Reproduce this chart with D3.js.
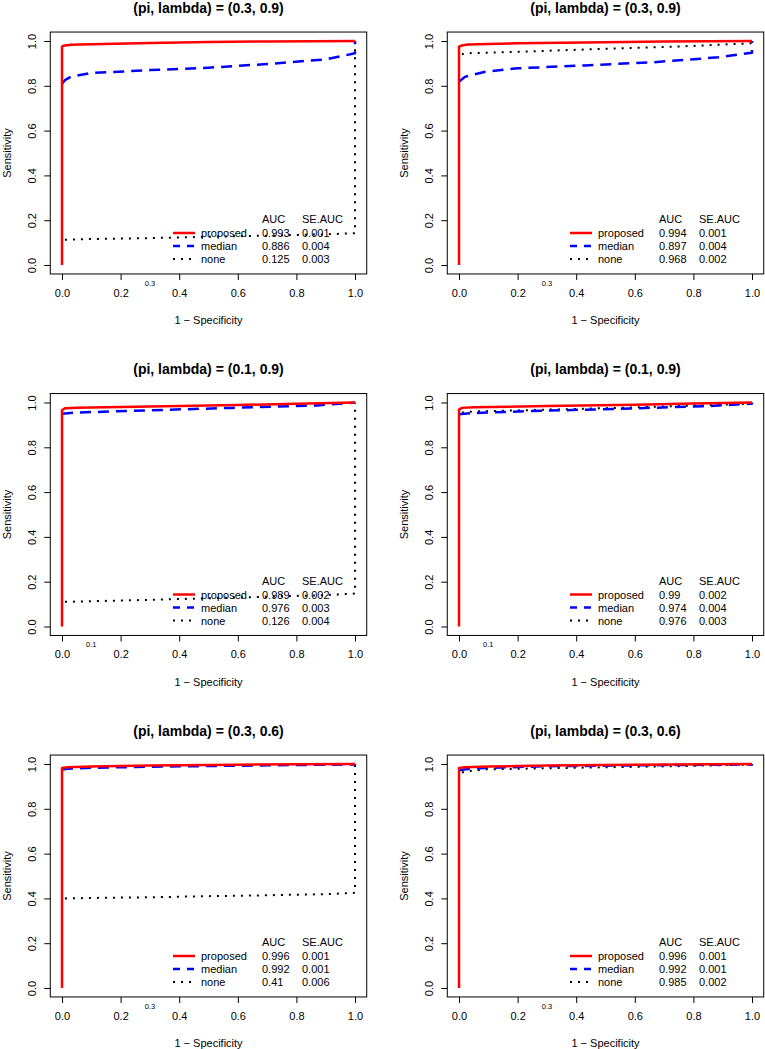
<!DOCTYPE html>
<html><head><meta charset="utf-8">
<script src="https://cdn.jsdelivr.net/npm/d3@7"></script>
<style>body{margin:0;background:#fff;} svg{display:block;font-family:"Liberation Sans",Arial,Helvetica,sans-serif;}</style>
</head><body><svg id="c" width="765" height="1049"></svg>
<script>
const panelTitles = ["(pi, lambda) = (0.3, 0.9)","(pi, lambda) = (0.3, 0.9)","(pi, lambda) = (0.1, 0.9)","(pi, lambda) = (0.1, 0.9)","(pi, lambda) = (0.3, 0.6)","(pi, lambda) = (0.3, 0.6)"];
const piValues = [0.3,0.3,0.1,0.1,0.3,0.3];
const seriesNames = ["proposed","median","none"];
const aucValues = [[0.993,0.886,0.125],[0.994,0.897,0.968],[0.989,0.976,0.126],[0.99,0.974,0.976],[0.996,0.992,0.41],[0.996,0.992,0.985]];
const seAucValues = [["0.001","0.004","0.003"],["0.001","0.004","0.002"],["0.002","0.003","0.004"],["0.002","0.004","0.003"],["0.001","0.001","0.006"],["0.001","0.001","0.002"]];
const xTicks = [0,0.2,0.4,0.6,0.8,1.0];
const yTicks = [0,0.2,0.4,0.6,0.8,1.0];
const xLabel = "1 \u2212 Specificity";
const yLabel = "Sensitivity";

const proposedCurves = [
 [[0,0],[0,0.975],[0.005,0.979],[0.03,0.983],[0.1,0.986],[0.3,0.991],[0.5,0.995],[0.7,0.998],[1,1]],
 [[0,0],[0,0.975],[0.01,0.98],[0.03,0.984],[0.1,0.987],[0.2,0.99],[0.5,0.994],[0.7,0.998],[1,1]],
 [[0,0],[0,0.965],[0.01,0.974],[0.05,0.977],[0.3,0.982],[0.6,0.989],[0.8,0.994],[1,1]],
 [[0,0],[0,0.968],[0.01,0.976],[0.05,0.979],[0.3,0.984],[0.6,0.99],[0.8,0.995],[1,1]],
 [[0,0],[0,0.982],[0.02,0.986],[0.1,0.989],[0.3,0.993],[0.6,0.997],[1,1]],
 [[0,0],[0,0.982],[0.02,0.986],[0.1,0.989],[0.3,0.993],[0.6,0.997],[1,1]]
];
const medianCurves = [
 [[0,0.81],[0.01,0.825],[0.03,0.84],[0.1,0.857],[0.3,0.87],[0.5,0.881],[0.7,0.897],[0.9,0.918],[1,0.945],[1,1]],
 [[0,0.818],[0.02,0.84],[0.09,0.863],[0.2,0.878],[0.43,0.891],[0.66,0.905],[0.885,0.927],[1,0.948],[1,1]],
 [[0,0.95],[0.05,0.955],[0.24,0.963],[0.58,0.976],[0.87,0.987],[1,1]],
 [[0,0.948],[0.05,0.953],[0.25,0.962],[0.55,0.972],[0.85,0.984],[1,0.995],[1,1]],
 [[0,0.975],[0.02,0.979],[0.1,0.983],[0.3,0.988],[0.7,0.994],[1,0.998],[1,1]],
 [[0,0.972],[0.03,0.978],[0.1,0.983],[0.3,0.99],[0.7,0.995],[1,0.998],[1,1]]
];
const noneCurves = [
 [[0.01,0.113],[0.1,0.116],[0.3,0.12],[0.5,0.126],[0.7,0.131],[0.9,0.137],[1,0.142],[1,1]],
 [[0.01,0.94],[0.02,0.945],[0.2,0.952],[0.5,0.965],[0.8,0.978],[1,0.99],[1,1]],
 [[0.01,0.11],[0.1,0.113],[0.3,0.119],[0.5,0.126],[0.7,0.133],[0.9,0.14],[1,0.147],[1,1]],
 [[0.01,0.955],[0.05,0.96],[0.3,0.968],[0.6,0.978],[0.9,0.99],[1,0.995],[1,1]],
 [[0.01,0.4],[0.1,0.402],[0.3,0.405],[0.5,0.41],[0.7,0.414],[0.9,0.419],[1,0.425],[1,1]],
 [[0.01,0.962],[0.03,0.968],[0.09,0.976],[0.43,0.984],[0.77,0.991],[1,0.998],[1,1]]
];

const seriesStyle = [
  {color:"#ff0000", dash:null, legendDash:null, width:2.5},
  {color:"#0000ff", dash:"11,7", legendDash:"7,7", width:2.5},
  {color:"#000000", dash:"2,6", legendDash:"2,6", width:2}
];

const svg = d3.select("#c");
const colStep = 397, rowStep = 361.5;
const innerW = 293, innerH = 224;

panelTitles.forEach((title, i) => {
  const col = i % 2, row = Math.floor(i / 2);
  const x0 = 62 + col * colStep;
  const yBase = 265 + row * rowStep;
  const rowTop = row * rowStep;
  const padX = 0.04 * innerW, padY = 0.04 * innerH;
  const x = d3.scaleLinear().domain([-0.04, 1.04]).range([x0 - padX, x0 + innerW + padX]);
  const y = d3.scaleLinear().domain([-0.04, 1.04]).range([yBase + padY, yBase - innerH - padY]);
  const g = svg.append("g");

  const curves = [noneCurves[i], medianCurves[i], proposedCurves[i]];
  const styles = [seriesStyle[2], seriesStyle[1], seriesStyle[0]];
  const line = d3.line().x(d => x(d[0])).y(d => y(d[1]));
  curves.forEach((c, k) => {
    g.append("path").attr("d", line(c)).attr("fill", "none")
      .attr("stroke", styles[k].color).attr("stroke-width", styles[k].width)
      .attr("stroke-dasharray", styles[k].dash)
      .attr("stroke-linejoin", "round");
  });

  // box
  g.append("rect").attr("x", x(-0.04)).attr("y", y(1.04))
    .attr("width", x(1.04) - x(-0.04)).attr("height", y(-0.04) - y(1.04))
    .attr("fill", "none").attr("stroke", "#000").attr("stroke-width", 1);

  // x axis
  const xa = g.append("g").attr("transform", `translate(0,${y(-0.04)})`)
    .call(d3.axisBottom(x).tickValues(xTicks).tickFormat(d3.format(".1f")).tickSizeOuter(0).tickSize(6).tickPadding(9));
  xa.select(".domain").remove();
  xa.selectAll("text").attr("font-size", 11).attr("font-family", "Liberation Sans, Arial, sans-serif").attr("fill", "#000");
  xa.selectAll("line").attr("stroke", "#000");

  // y axis
  const ya = g.append("g").attr("transform", `translate(${x(-0.04)},0)`)
    .call(d3.axisLeft(y).tickValues(yTicks).tickFormat(d3.format(".1f")).tickSizeOuter(0).tickSize(6));
  ya.select(".domain").remove();
  ya.selectAll("line").attr("stroke", "#000");
  ya.selectAll("text").attr("font-size", 11).attr("font-family", "Liberation Sans, Arial, sans-serif").attr("fill", "#000")
    .attr("x", null).attr("dy", null)
    .attr("transform", `translate(${35.5 - x(-0.04) + col*colStep},0) rotate(-90)`)
    .attr("text-anchor", "middle");

  // title
  g.append("text").attr("x", (x(-0.04) + x(1.04)) / 2).attr("y", rowTop + 12.5)
    .attr("text-anchor", "middle").attr("font-weight", "bold").attr("font-size", 14).text(title);

  // axis labels
  g.append("text").attr("x", (x(-0.04) + x(1.04)) / 2).attr("y", rowTop + 324)
    .attr("text-anchor", "middle").attr("font-size", 11).text(xLabel);
  g.append("text").attr("transform", `translate(${11 + col*colStep},${(y(-0.04) + y(1.04)) / 2}) rotate(-90)`)
    .attr("text-anchor", "middle").attr("font-size", 11).text(yLabel);

  // pi marker label
  g.append("text").attr("x", x(piValues[i])).attr("y", y(-0.04) + 12)
    .attr("text-anchor", "middle").attr("font-size", 7.5).text(piValues[i]);

  // legend
  const lg = g.append("g");
  lg.append("text").attr("x", x0 + 200).attr("y", rowTop + 223).attr("font-size", 11).text("AUC");
  lg.append("text").attr("x", x0 + 240).attr("y", rowTop + 223).attr("font-size", 11).text("SE.AUC");
  seriesNames.forEach((name, k) => {
    const cy = rowTop + 233 + k * 13;
    const st = seriesStyle[k];
    lg.append("line").attr("x1", x0 + 111).attr("x2", x0 + 133).attr("y1", cy).attr("y2", cy)
      .attr("stroke", st.color).attr("stroke-width", st.width).attr("stroke-dasharray", st.legendDash);
    lg.append("text").attr("x", x0 + 139).attr("y", cy + 4).attr("font-size", 11).text(name);
    lg.append("text").attr("x", x0 + 200).attr("y", cy + 4).attr("font-size", 11).text(aucValues[i][k]);
    lg.append("text").attr("x", x0 + 240).attr("y", cy + 4).attr("font-size", 11).text(seAucValues[i][k]);
  });
});
</script></body></html>
